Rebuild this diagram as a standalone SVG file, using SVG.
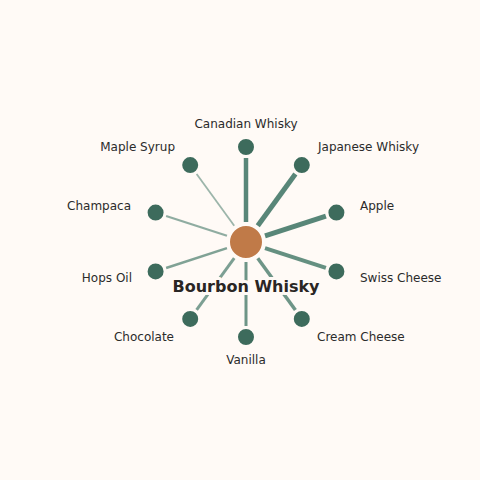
<svg xmlns="http://www.w3.org/2000/svg" width="480" height="480" viewBox="0 0 480 480">
<style>
.edge{stroke:#4a7c6c;stroke-linecap:butt;fill:none}
.leaf{fill:#3d6b5c;stroke:#fffaf6;stroke-width:2}
.lbl{font-family:"DejaVu Sans",sans-serif;font-size:12px;fill:#2b2b2b;dominant-baseline:central}
.title{font-family:"DejaVu Sans",sans-serif;font-size:16px;font-weight:bold;fill:#2a2624;text-anchor:middle;dominant-baseline:central;stroke:#fffaf6;stroke-width:6;paint-order:stroke;stroke-linejoin:round}
</style>
<rect width="480" height="480" fill="#fffaf6"/>
<g id="connectors">
<line class="edge" x1="246" y1="222" x2="246" y2="158" stroke-width="4.5" stroke-opacity="0.92"/>
<line class="edge" x1="257.76" y1="225.82" x2="295.38" y2="174.04" stroke-width="5" stroke-opacity="0.92"/>
<line class="edge" x1="265.02" y1="235.82" x2="325.89" y2="216.04" stroke-width="5" stroke-opacity="0.92"/>
<line class="edge" x1="265.02" y1="248.18" x2="325.89" y2="267.96" stroke-width="4" stroke-opacity="0.85"/>
<line class="edge" x1="257.76" y1="258.18" x2="295.38" y2="309.96" stroke-width="3.5" stroke-opacity="0.8"/>
<line class="edge" x1="246" y1="262" x2="246" y2="326" stroke-width="3" stroke-opacity="0.8"/>
<line class="edge" x1="234.24" y1="258.18" x2="196.62" y2="309.96" stroke-width="3" stroke-opacity="0.72"/>
<line class="edge" x1="226.98" y1="248.18" x2="166.11" y2="267.96" stroke-width="2.5" stroke-opacity="0.7"/>
<line class="edge" x1="226.98" y1="235.82" x2="166.11" y2="216.04" stroke-width="2.2" stroke-opacity="0.62"/>
<line class="edge" x1="234.24" y1="225.82" x2="196.62" y2="174.04" stroke-width="1.8" stroke-opacity="0.55"/>
</g>
<g id="center">
<circle cx="246" cy="242" r="17" fill="#c07a48" stroke="#fffaf6" stroke-width="2"/>
<text class="title" x="246" y="286">Bourbon Whisky</text>
</g>
<g id="n-canadian"><circle class="leaf" cx="246" cy="147" r="9"/><text class="lbl" x="246" y="124" text-anchor="middle">Canadian Whisky</text></g>
<g id="n-japanese"><circle class="leaf" cx="301.8" cy="165.1" r="9"/><text class="lbl" x="318" y="147" text-anchor="start">Japanese Whisky</text></g>
<g id="n-apple"><circle class="leaf" cx="336.4" cy="212.6" r="9"/><text class="lbl" x="360" y="206" text-anchor="start">Apple</text></g>
<g id="n-swiss"><circle class="leaf" cx="336.4" cy="271.4" r="9"/><text class="lbl" x="360" y="278" text-anchor="start">Swiss Cheese</text></g>
<g id="n-cream"><circle class="leaf" cx="301.8" cy="318.9" r="9"/><text class="lbl" x="317" y="337" text-anchor="start">Cream Cheese</text></g>
<g id="n-vanilla"><circle class="leaf" cx="246" cy="337" r="9"/><text class="lbl" x="246" y="360" text-anchor="middle">Vanilla</text></g>
<g id="n-chocolate"><circle class="leaf" cx="190.2" cy="318.9" r="9"/><text class="lbl" x="174" y="337" text-anchor="end">Chocolate</text></g>
<g id="n-hops"><circle class="leaf" cx="155.6" cy="271.4" r="9"/><text class="lbl" x="132" y="278" text-anchor="end">Hops Oil</text></g>
<g id="n-champaca"><circle class="leaf" cx="155.6" cy="212.6" r="9"/><text class="lbl" x="131" y="206" text-anchor="end">Champaca</text></g>
<g id="n-maple"><circle class="leaf" cx="190.2" cy="165.1" r="9"/><text class="lbl" x="175" y="147" text-anchor="end">Maple Syrup</text></g>
</svg>
